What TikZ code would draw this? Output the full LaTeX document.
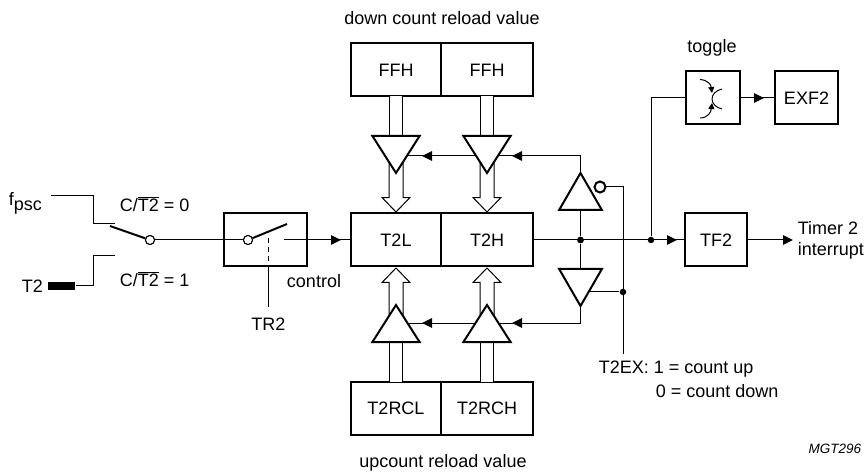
\documentclass[tikz,border=0pt]{standalone}
\usepackage{fontspec}
\setmainfont{Liberation Sans}
\usetikzlibrary{positioning, arrows.meta, shapes.geometric, shapes.arrows, decorations.markings}

\begin{document}
\begin{tikzpicture}[
    x=1pt, y=-1pt,
    on grid,
    font=\fontsize{18}{21}\selectfont,
    line width=1pt,
    regbox/.style={draw, line width=2pt, inner sep=0pt, outer sep=0pt, minimum width=#1, minimum height=53pt},
    regbox/.default=90pt,
    buffer/.style={draw, fill=white, line width=2pt, isosceles triangle, isosceles triangle apex angle=65, minimum height=37pt, inner sep=0pt, outer sep=0pt, anchor=apex},
    busline/.style={double, double distance=12pt, line width=1pt},
    openarrow/.style={draw, fill=white, line width=1pt, single arrow, single arrow head extend=7pt, single arrow tip angle=88, single arrow head indent=0pt, minimum height=#1, inner sep=0pt, outer sep=0pt, anchor=tip},
    dot/.style={circle, fill=black, inner sep=0pt, minimum size=6.5pt},
    contact/.style={circle, draw, fill=white, inner sep=0pt, minimum size=9pt},
    arm/.style={line width=2pt},
    tipat/.style={decoration={markings, mark=at position #1 with {\arrow{Triangle[length=10pt, width=9.5pt]}}}, postaction=decorate},
    endtip/.style={-{Triangle[length=10pt, width=9.5pt]}}
]
    \useasboundingbox (0,0) rectangle (868,473);

    % Registers
    \node[regbox] (t2l) at (396,240) {T2L};
    \node[regbox=92pt] (t2h) [right=91pt of t2l] {T2H};
    \node[regbox] (ffhl) [above=170pt of t2l] {FFH};
    \node[regbox=92pt] (ffhh) [right=91pt of ffhl] {FFH};
    \node[regbox] (t2rcl) [below=168pt of t2l] {T2RCL};
    \node[regbox=92pt] (t2rch) [right=91pt of t2rcl] {T2RCH};
    \node[regbox=62pt] (tf2) at (716,240) {TF2};
    \node[regbox=54pt] (togglebox) at (713,98) {};
    \node[regbox=63pt] (exf2) at (806.5,98) {EXF2};
    \node[regbox=83pt] (runbox) at (265.5,240) {};

    % Labels
    \node (downlabel) at (442,18) {down count reload value};
    \node (uplabel) at (443,463) {upcount reload value};
    \node (togglelabel) at (712,48) {toggle};
    \node[anchor=west] (fpsc) at (5,203) {f\raisebox{-5pt}{psc}};
    \node[anchor=west] (t2pin) at (18,286) {T2};
    \node[anchor=west] (c0) at (116,204) {C/$\overline{\mbox{T2}}$ = 0};
    \node[anchor=west] (c1) at (116,279) {C/$\overline{\mbox{T2}}$ = 1};
    \node (control) at (314,281) {control};
    \node (tr2) at (268.5,324) {TR2};
    \node[anchor=west] (t2ex) at (595,369) {T2EX: 1 = count up};
    \node[anchor=west] (t2exb) at (652,391) {0 = count down};
    \node[align=left, anchor=west] (timerlabel) at (794,240) {Timer 2\\interrupt};
    \node[anchor=east, font=\fontsize{13.5}{16}\selectfont\itshape] (mgt) at (865,449) {MGT296};

    % Points on the wires
    \coordinate (fpscend) at (51,196);
    \coordinate (fpscbend) at (93,224);
    \coordinate (fpscfree) at (115,224);
    \coordinate (t2bend) at (93,256);
    \coordinate (t2free) at (115,256);
    \coordinate (armfree) at (110,226);
    \coordinate (runfree) at (287,224);
    \coordinate (runout) at (284,240);
    \coordinate (dashtop) at (268.5,238);
    \coordinate (dashbot) at (268.5,267);
    \coordinate (tr2top) at (268.5,307);
    \coordinate (tlin) at (396,156);
    \coordinate (thin) at (487,156);
    \coordinate (blin) at (396,323);
    \coordinate (bhin) at (487,323);
    \coordinate (topturn) at (580.5,156);
    \coordinate (botturn) at (580.5,323);
    \coordinate (ctlturn) at (623,187);
    \coordinate (ctlend) at (623,354);
    \coordinate (topbubble) at (600,187);
    \coordinate (tapin) at (590,292);

    \node[contact] (swl) at (150,240) {};
    \node[contact] (swr) at (248,240) {};
    \node[dot] (mainjoin) at (580.5,240) {};
    \node[dot] (togglejoin) at (651,240) {};
    \node[dot] (ctljoin) at (623,292) {};
    \node[fill=black, inner sep=0pt, minimum width=27pt, minimum height=8.5pt] (pinblock) at (61.5,286) {};

    % Input side
    \draw (fpscend) -| (fpscbend) -- (fpscfree);
    \draw (pinblock) -| (t2bend) -- (t2free);
    \draw[arm] (armfree) -- (swl);
    \draw (swl) -- (swr);
    \draw[arm] (swr) -- (runfree);
    \draw[tipat=-10pt] (runout) -- (t2l.west);
    \draw[dashed, dash pattern=on 5pt off 4pt] (dashtop) -- (dashbot);
    \draw (dashbot) -- (tr2top);
    \node[contact] at (swl) {};
    \node[contact] at (swr) {};

    % Buses and buffers
    \node[openarrow=56pt, rotate=-90] (tlbus) at (396,212) {\rule{0pt}{13pt}};
    \node[openarrow=56pt, rotate=-90] (thbus) at (487,212) {\rule{0pt}{13pt}};
    \node[openarrow=56pt, rotate=90] (blbus) at (396,268) {\rule{0pt}{13pt}};
    \node[openarrow=56pt, rotate=90] (bhbus) at (487,268) {\rule{0pt}{13pt}};
    \draw[busline] (ffhl.south) -- (396,150);
    \draw[busline] (ffhh.south) -- (487,150);
    \draw[busline] (t2rcl.north) -- (396,330);
    \draw[busline] (t2rch.north) -- (487,330);

    % Count direction control
    \draw (mainjoin) -- (topturn);
    \draw[tipat=-25pt] (topturn) -- (thin);
    \draw[tipat=-26pt] (thin) -- (tlin);
    \draw (mainjoin) -- (botturn);
    \draw[tipat=-25pt] (botturn) -- (bhin);
    \draw[tipat=-26pt] (bhin) -- (blin);
    \draw (topbubble) -| (ctlturn) -- (ctlend);
    \draw (ctljoin) -- (tapin);

    \node[buffer, shape border rotate=-90] (tlbuf) at (396,173) {};
    \node[buffer, shape border rotate=-90] (thbuf) at (487,173) {};
    \node[buffer, shape border rotate=90] (blbuf) at (396,305) {};
    \node[buffer, shape border rotate=90] (bhbuf) at (487,305) {};
    \node[buffer, shape border rotate=90, isosceles triangle apex angle=60] (upctl) at (580.5,173) {};
    \node[buffer, shape border rotate=-90, isosceles triangle apex angle=60] (downctl) at (580.5,306) {};
    \node[contact, line width=2pt, minimum size=11pt] (bubble) at (600,187) {};
    \node[dot] at (mainjoin) {};

    % Output side
    \draw[tipat=-8pt] (t2h.east) -- (tf2.west);
    \draw (togglejoin) |- (togglebox.west);
    \draw[tipat=-11pt] (togglebox.east) -- (exf2.west);
    \draw[endtip] (tf2.east) -- (793,240) coordinate (timerend);

    % Toggle symbol
    \draw[-{Triangle[length=6pt, width=6pt]}] (700,79.5) .. controls (708,80) and (711,85) .. (712,93);
    \draw[-{Triangle[length=6pt, width=6pt]}] (700,118) .. controls (708,118) and (711,112) .. (712,103);
    \draw (722,89) .. controls (708.7,92) and (708.7,106) .. (722,109);
\end{tikzpicture}
\end{document}
